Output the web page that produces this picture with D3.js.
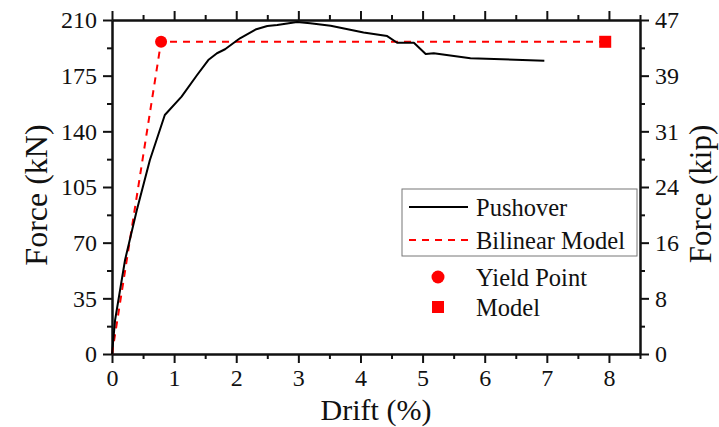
<!DOCTYPE html>
<html>
<head>
<meta charset="utf-8">
<script src="https://cdn.jsdelivr.net/npm/d3@7"></script>
<style>
  body { margin: 0; background: #fff; }
  text { font-family: "Liberation Serif", "Times New Roman", serif; fill: #111; }
</style>
</head>
<body>
<div id="chart"></div>
<script>
// pushover curve (drift %, force kN)
const drift = [0, 0.05, 0.21, 0.40, 0.61, 0.85, 1.12, 1.37, 1.55, 1.69, 1.82, 2.06, 2.31, 2.50, 2.66, 2.98, 3.19, 3.52, 4.05, 4.43, 4.59, 4.86, 5.05, 5.18, 5.77, 6.96];
const force = [0, 21.4, 59.1, 90.5, 122.0, 150.3, 161.8, 175.4, 184.8, 189.1, 191.6, 198.5, 204.0, 206.2, 206.8, 208.7, 207.9, 206.4, 202.2, 199.9, 195.7, 195.7, 188.6, 189.1, 185.9, 184.4];

// bilinear idealisation
const bilinearDrift = [0, 0.79, 7.94];
const bilinearForce = [0, 196.3, 196.3];
const yieldPoint = { drift: 0.79, force: 196.3 };
const modelPoint = { drift: 7.94, force: 196.3 };

const xTicks = [0, 1, 2, 3, 4, 5, 6, 7, 8];
const xMinor = [0.5, 1.5, 2.5, 3.5, 4.5, 5.5, 6.5, 7.5, 8.5];
const kNTicks = [0, 35, 70, 105, 140, 175, 210];
const kNMinor = [17.5, 52.5, 87.5, 122.5, 157.5, 192.5];
const kipLabels = ["0", "8", "16", "24", "31", "39", "47"];

const width = 719;
const height = 427;
const margin = { top: 20, right: 79, bottom: 73, left: 112 };
const red = "#ff0000";

const svg = d3.select("#chart")
  .append("svg")
  .attr("width", width)
  .attr("height", height);

const x = d3.scaleLinear()
  .domain([0, 8.5])
  .range([margin.left, width - margin.right]);

const y = d3.scaleLinear()
  .domain([0, 210])
  .range([height - margin.bottom, margin.top]);

function styleAxis(g) {
  g.select(".domain").attr("stroke", "#111").attr("stroke-width", 2);
  g.selectAll(".tick line").attr("stroke", "#111").attr("stroke-width", 2);
  g.selectAll("text").style("font-size", "24px").attr("fill", "#111");
}

// major + minor ticks on all four sides
const bottom = height - margin.bottom;
const right = width - margin.right;

svg.append("g")
  .attr("transform", `translate(0,${bottom})`)
  .call(d3.axisBottom(x).tickValues(xMinor).tickSize(5).tickSizeOuter(0).tickFormat(""))
  .call(styleAxis);
svg.append("g")
  .attr("transform", `translate(0,${bottom})`)
  .call(d3.axisBottom(x).tickValues(xTicks).tickSize(9).tickSizeOuter(0).tickPadding(6).tickFormat(d3.format("d")))
  .call(styleAxis);

svg.append("g")
  .attr("transform", `translate(0,${margin.top})`)
  .call(d3.axisTop(x).tickValues(xMinor).tickSize(5).tickSizeOuter(0).tickFormat(""))
  .call(styleAxis);
svg.append("g")
  .attr("transform", `translate(0,${margin.top})`)
  .call(d3.axisTop(x).tickValues(xTicks).tickSize(9).tickSizeOuter(0).tickFormat(""))
  .call(styleAxis);

svg.append("g")
  .attr("transform", `translate(${margin.left},0)`)
  .call(d3.axisLeft(y).tickValues(kNMinor).tickSize(5).tickSizeOuter(0).tickFormat(""))
  .call(styleAxis);
svg.append("g")
  .attr("transform", `translate(${margin.left},0)`)
  .call(d3.axisLeft(y).tickValues(kNTicks).tickSize(9).tickSizeOuter(0).tickPadding(6).tickFormat(d3.format("d")))
  .call(styleAxis);

svg.append("g")
  .attr("transform", `translate(${right},0)`)
  .call(d3.axisRight(y).tickValues(kNMinor).tickSize(5).tickSizeOuter(0).tickFormat(""))
  .call(styleAxis);
svg.append("g")
  .attr("transform", `translate(${right},0)`)
  .call(d3.axisRight(y).tickValues(kNTicks).tickSize(9).tickSizeOuter(0).tickPadding(6).tickFormat((d, i) => kipLabels[i]))
  .call(styleAxis);

// axis titles
svg.append("text")
  .attr("x", (margin.left + right) / 2)
  .attr("y", 420)
  .attr("text-anchor", "middle")
  .style("font-size", "30px")
  .text("Drift (%)");

svg.append("text")
  .attr("transform", "translate(47,195) rotate(-90)")
  .attr("text-anchor", "middle")
  .style("font-size", "32px")
  .text("Force (kN)");

svg.append("text")
  .attr("transform", "translate(711,194) rotate(-90)")
  .attr("text-anchor", "middle")
  .style("font-size", "31px")
  .text("Force (kip)");

// curves
const line = d3.line()
  .x(p => x(p.d))
  .y(p => y(p.f));

svg.append("path")
  .datum(bilinearDrift.map((d, i) => ({ d, f: bilinearForce[i] })))
  .attr("fill", "none")
  .attr("stroke", red)
  .attr("stroke-width", 2)
  .attr("stroke-dasharray", "7,6")
  .attr("d", line);

svg.append("path")
  .datum(drift.map((d, i) => ({ d, f: force[i] })))
  .attr("fill", "none")
  .attr("stroke", "#000")
  .attr("stroke-width", 2)
  .attr("stroke-linejoin", "round")
  .attr("d", line);

svg.append("circle")
  .attr("cx", x(yieldPoint.drift))
  .attr("cy", y(yieldPoint.force))
  .attr("r", 6)
  .attr("fill", red);

svg.append("rect")
  .attr("x", x(modelPoint.drift) - 6)
  .attr("y", y(modelPoint.force) - 6)
  .attr("width", 12)
  .attr("height", 12)
  .attr("fill", red);

// legend
const legend = svg.append("g");

legend.append("rect")
  .attr("x", 402)
  .attr("y", 189)
  .attr("width", 235)
  .attr("height", 67)
  .attr("fill", "#fff")
  .attr("stroke", "#777")
  .attr("stroke-width", 1);

legend.append("line")
  .attr("x1", 409).attr("x2", 468)
  .attr("y1", 207).attr("y2", 207)
  .attr("stroke", "#000").attr("stroke-width", 2);

legend.append("line")
  .attr("x1", 409).attr("x2", 468)
  .attr("y1", 240).attr("y2", 240)
  .attr("stroke", red).attr("stroke-width", 2)
  .attr("stroke-dasharray", "7,6");

legend.append("circle")
  .attr("cx", 438).attr("cy", 277).attr("r", 6.5)
  .attr("fill", red);

legend.append("rect")
  .attr("x", 432).attr("y", 301).attr("width", 12).attr("height", 12)
  .attr("fill", red);

[["Pushover", 207], ["Bilinear Model", 240], ["Yield Point", 277], ["Model", 307]].forEach(([label, ly]) => {
  legend.append("text")
    .attr("x", 476)
    .attr("y", ly)
    .attr("dy", "0.35em")
    .style("font-size", "24.5px")
    .text(label);
});
</script>
</body>
</html>
